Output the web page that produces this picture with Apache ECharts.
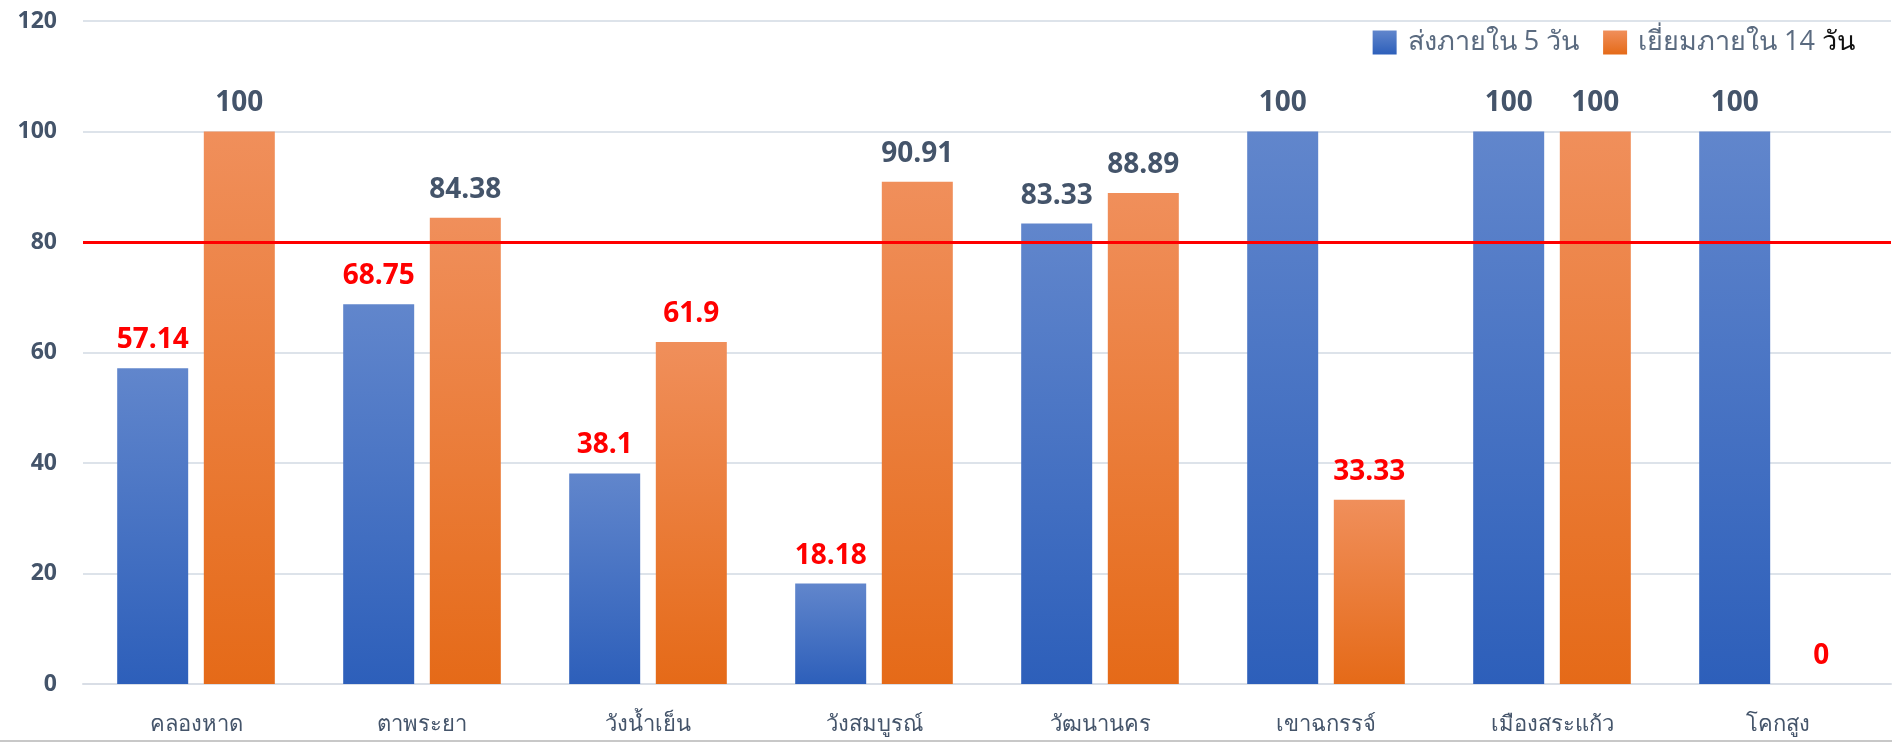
<!DOCTYPE html>
<html>
<head>
<meta charset="utf-8">
<script src="https://cdn.jsdelivr.net/npm/echarts@6/dist/echarts.min.js"></script>
<style>
  html, body { margin: 0; padding: 0; background: #fff; }
  #main { width: 1892px; height: 742px; }
</style>
</head>
<body>
<div id="main"></div>
<script>
// อำเภอ
const districts = ['คลองหาด', 'ตาพระยา', 'วังน้ำเย็น', 'วังสมบูรณ์', 'วัฒนานคร', 'เขาฉกรรจ์', 'เมืองสระแก้ว', 'โคกสูง'];
const within5Days = [57.14, 68.75, 38.1, 18.18, 83.33, 100, 100, 100];
const visit14Days = [100, 84.38, 61.9, 90.91, 88.89, 33.33, 100, 0];
const seriesNames = ['ส่งภายใน 5 วัน', 'เยี่ยมภายใน 14 วัน'];
const yTicks = [0, 20, 40, 60, 80, 100, 120];
const target = 80;

const labelDark = '#44546a';
const font = '"Open Sans", "Noto Sans", sans-serif';

const grad = (top, bottom) => new echarts.graphic.LinearGradient(0, 0, 0, 1, [
  { offset: 0, color: top }, { offset: 1, color: bottom }
]);

// สีป้ายค่า: ต่ำกว่าเป้าเป็นสีแดง
const withLabels = arr => arr.map(v => ({
  value: v,
  label: { color: v < target ? '#ff0000' : labelDark }
}));

const barLabel = {
  show: true,
  position: 'top',
  distance: 14,
  fontSize: 28,
  fontWeight: 'bold',
  fontFamily: font
};

const chart = echarts.init(document.getElementById('main'));
chart.setOption({
  animation: false,
  backgroundColor: '#fff',
  grid: { left: 83, right: 1, top: 21, bottom: 58 },
  legend: {
    right: 32,
    top: 24,
    itemWidth: 24,
    itemHeight: 24,
    itemGap: 24,
    icon: 'rect',
    formatter: name => name === seriesNames[1]
      ? '{a|เยี่ยมภายใน 14 }{b|วัน}'
      : name,
    data: seriesNames,
    textStyle: {
      fontSize: 27, color: '#5b6b80', fontFamily: font,
      padding: [0, 0, 0, 6],
      rich: {
        a: { fontSize: 27, color: '#5b6b80', fontFamily: font },
        b: { fontSize: 27, color: '#111', fontFamily: font }
      }
    }
  },
  xAxis: {
    type: 'category',
    data: districts,
    axisTick: { show: false },
    axisLine: { lineStyle: { color: '#d9dee6', width: 2 } },
    axisLabel: { color: labelDark, fontSize: 22, fontFamily: font, margin: 30 }
  },
  yAxis: {
    type: 'value',
    min: yTicks[0],
    max: yTicks[yTicks.length - 1],
    interval: yTicks[1] - yTicks[0],
    axisLine: { show: false },
    axisTick: { show: false },
    axisLabel: { color: labelDark, fontSize: 23, fontWeight: 'bold', fontFamily: font, margin: 26 },
    splitLine: { lineStyle: { color: '#dde3ea', width: 2 } }
  },
  series: [
    {
      name: seriesNames[0],
      type: 'bar',
      barWidth: 71,
      barGap: '22%',
      itemStyle: { color: grad('#6186cc', '#2d5fba') },
      label: barLabel,
      data: withLabels(within5Days),
      markLine: {
        silent: true,
        symbol: 'none',
        label: { show: false },
        lineStyle: { color: '#ff0000', width: 3, type: 'solid' },
        data: [{ yAxis: target }]
      }
    },
    {
      name: seriesNames[1],
      type: 'bar',
      barWidth: 71,
      barGap: '22%',
      itemStyle: { color: grad('#f08f5b', '#e56a18') },
      label: barLabel,
      data: withLabels(visit14Days)
    }
  ],
  graphic: [{
    type: 'rect',
    shape: { x: 0, y: 740, width: 1892, height: 2 },
    style: { fill: '#c8c8c8' }
  }]
});
</script>
</body>
</html>
